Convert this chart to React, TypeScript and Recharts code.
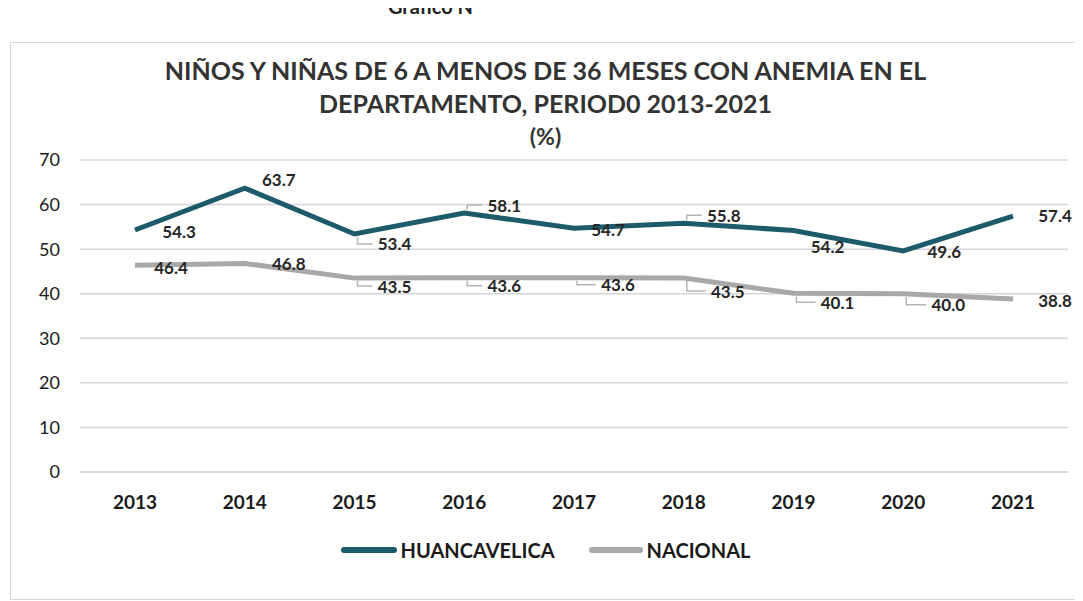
import React from 'react';
import { LineChart, Line, XAxis, YAxis, CartesianGrid } from 'recharts';

// values (data labels)
const years = ['2013', '2014', '2015', '2016', '2017', '2018', '2019', '2020', '2021'];
const huancavelica = [54.3, 63.7, 53.4, 58.1, 54.7, 55.8, 54.2, 49.6, 57.4];
const nacional = [46.4, 46.8, 43.5, 43.6, 43.6, 43.5, 40.1, 40.0, 38.8];
const yTicks = [0, 10, 20, 30, 40, 50, 60, 70];

// label placement next to each point (dx, dy) and whether Excel drew a leader line
const huanOffsets = [[44, 2], [34, -9], [40, 10], [40, -8], [34, 1], [40, -8], [34, 16], [41, 1], [42, -1]];
const huanLeaders = [false, false, true, true, false, true, false, false, false];
const nacOffsets = [[36, 2], [44, 0], [40, 8], [40, 8], [44, 7], [44, 13], [44, 9], [45, 11], [42, 1]];
const nacLeaders = [false, false, true, true, true, true, true, true, false];

const data = years.map((y, i) => ({ year: y, huancavelica: huancavelica[i], nacional: nacional[i] }));

const FONT = 'Lato, "Open Sans", sans-serif';
const TEAL = '#1d5b6b';
const GRAY = '#a8a8a8';

const makeLabel = (offsets: number[][], leaders: boolean[]) => (props: any) => {
  const { x, y, index, value } = props;
  const [dx, dy] = offsets[index];
  return (
    <g key={`lbl-${index}`}>
      {leaders[index] && (
        <path
          d={`M${x + 3},${y + (dy > 0 ? 3 : -3)} V${y + dy} H${x + dx - 22}`}
          stroke="#b5b5b5"
          strokeWidth={1.5}
          fill="none"
        />
      )}
      <text
        x={x + dx}
        y={y + dy}
        textAnchor="middle"
        dominantBaseline="central"
        fontFamily={FONT}
        fontWeight={700}
        fontSize={17}
        fill="#262626"
      >
        {Number(value).toFixed(1)}
      </text>
    </g>
  );
};

const App: React.FC = () => {
  return (
    <div
      style={{
        position: 'relative',
        width: 1075,
        height: 593,
        fontFamily: FONT,
        overflow: 'hidden',
      }}
    >
      {/* cut-off caption at the very top of the scan */}
      <div
        style={{
          position: 'absolute',
          top: -14,
          left: 380,
          fontSize: 20,
          fontWeight: 700,
          color: '#222',
        }}
      >
        Gráfico N°
      </div>
      <div
        style={{
          position: 'absolute',
          left: 2,
          top: 34,
          width: 1068,
          height: 556,
          border: '1px solid #d6d6d6',
        }}
      />
      <div
        style={{
          position: 'absolute',
          top: 46,
          left: 0,
          width: 1075,
          textAlign: 'center',
          fontSize: 25,
          fontWeight: 700,
          color: '#333',
          lineHeight: '33px',
        }}
      >
        <div>NIÑOS Y NIÑAS DE 6 A MENOS DE 36 MESES CON ANEMIA EN EL</div>
        <div>DEPARTAMENTO, PERIOD0 2013-2021</div>
        <div style={{ fontSize: 23 }}>(%)</div>
      </div>

      <div style={{ position: 'absolute', top: 0, left: 0 }}>
        <LineChart width={1075} height={593} data={data} margin={{ top: 152, right: 15, bottom: 99, left: 0 }}>
          <CartesianGrid vertical={false} stroke="#d4d4de" strokeWidth={1.5} />
          <XAxis
            dataKey="year"
            height={30}
            padding={{ left: 55, right: 55 }}
            axisLine={{ stroke: '#d4d4de', strokeWidth: 1.5 }}
            tickLine={false}
            tickMargin={18}
            tick={{ fontFamily: FONT, fontSize: 19, fontWeight: 700, fill: '#1a1a1a' }}
          />
          <YAxis
            width={72}
            domain={[0, 70]}
            ticks={yTicks}
            axisLine={false}
            tickLine={false}
            tickMargin={14}
            tick={{ fontFamily: FONT, fontSize: 18, fill: '#1a1a1a' }}
          />
          <Line
            dataKey="nacional"
            stroke={GRAY}
            strokeWidth={5}
            dot={false}
            isAnimationActive={false}
            label={makeLabel(nacOffsets, nacLeaders)}
          />
          <Line
            dataKey="huancavelica"
            stroke={TEAL}
            strokeWidth={5}
            dot={false}
            isAnimationActive={false}
            label={makeLabel(huanOffsets, huanLeaders)}
          />
        </LineChart>
      </div>

      {/* legend */}
      <div
        style={{
          position: 'absolute',
          top: 530,
          left: 0,
          width: 1075,
          display: 'flex',
          justifyContent: 'center',
          alignItems: 'center',
          fontSize: 20,
          fontWeight: 700,
          color: '#1a1a1a',
        }}
      >
        <span style={{ display: 'inline-block', width: 56, height: 6, borderRadius: 3, background: TEAL, marginRight: 4 }} />
        <span style={{ marginRight: 34 }}>HUANCAVELICA</span>
        <span style={{ display: 'inline-block', width: 54, height: 6, borderRadius: 3, background: GRAY, marginRight: 4 }} />
        <span>NACIONAL</span>
      </div>
    </div>
  );
};

export default App;
